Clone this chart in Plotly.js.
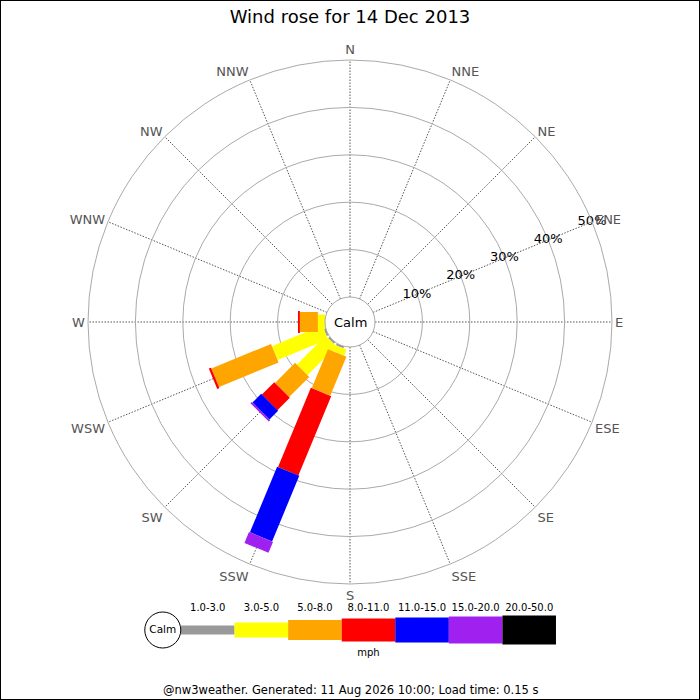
<!DOCTYPE html>
<html>
<head>
<meta charset="utf-8">
<script src="https://cdn.plot.ly/plotly-3.0.1.min.js"></script>
<style>
html,body{margin:0;padding:0;background:#fff;}
#chart{width:700px;height:700px;}
</style>
</head>
<body>
<div id="chart"></div>
<script>
// ---- data ----
const directions = ['N','NNE','NE','ENE','E','ESE','SE','SSE','S','SSW','SW','WSW','W','WNW','NW','NNW'];
const speedBands = ['1.0-3.0','3.0-5.0','5.0-8.0','8.0-11.0','11.0-15.0','15.0-20.0','20.0-50.0'];
// percent of time per direction, per speed band (mph)
const band1to3   = [0,0,0,0,0,0,0,0,0, 0.4, 0.4, 0.4, 0,  0,0,0];
const band3to5   = [0,0,0,0,0,0,0,0,0, 1.4, 8.6,11.5, 1.5,0,0,0];
const band5to8   = [0,0,0,0,0,0,0,0,0, 8.9, 6.0,13.6, 3.8,0,0,0];
const band8to11  = [0,0,0,0,0,0,0,0,0,18.1, 3.7, 0.5, 0.4,0,0,0];
const band11to15 = [0,0,0,0,0,0,0,0,0,15.0, 2.6, 0,   0,  0,0,0];
const band15to20 = [0,0,0,0,0,0,0,0,0, 2.5, 0.4, 0,   0,  0,0,0];
const band20to50 = [0,0,0,0,0,0,0,0,0, 0,   0,   0,   0,  0,0,0];
const radialTicks = [10,20,30,40,50];
const radialTickText = ['10%','20%','30%','40%','50%'];
const radialLabelDirection = 'ENE';
const titleText = 'Wind rose for 14 Dec 2013';
const footerText = '@nw3weather. Generated: 11 Aug 2026 10:00; Load time: 0.15 s';

// ---- styles ----
const bandColors = ['#999999','#ffff00','#ffa500','#ff0000','#0000ff','#a020f0','#000000'];
const bandWidths = [8,15,20,22,24,26,28];
const legendWidths = [9,15,20,23,25,27,29];
const FONT = 'DejaVu Sans, Verdana, sans-serif';

const bands = [band1to3,band3to5,band5to8,band8to11,band11to15,band15to20,band20to50];

const traces = [];
const cum = directions.map(()=>0);
bands.forEach((vals,bi)=>{
  const r=[], th=[];
  vals.forEach((v,di)=>{
    const lo = cum[di], hi = cum[di]+v;
    cum[di] = hi;
    if(v>0){ r.push(lo,hi,null); th.push(directions[di],directions[di],null); }
  });
  traces.push({
    type:'scatterpolar', mode:'lines', r:r, theta:th,
    connectgaps:false,
    line:{color:bandColors[bi], width:bandWidths[bi]},
    hoverinfo:'skip', showlegend:false, subplot:'polar'
  });
});
// radial scale labels, centred on each ring along ENE
traces.push({
  type:'scatterpolar', mode:'text', r:radialTicks, theta:radialTicks.map(()=>radialLabelDirection),
  text:radialTickText, textposition:'middle center',
  textfont:{family:FONT,size:13,color:'#000'}, cliponaxis:false,
  hoverinfo:'skip', showlegend:false, subplot:'polar'
});

// legend (colour key)
speedBands.forEach((b,i)=>{
  traces.push({
    type:'scatter', mode:'lines', x:[i,i+1], y:[0,0], xaxis:'x', yaxis:'y',
    line:{color:bandColors[i], width:legendWidths[i]},
    hoverinfo:'skip', showlegend:false, cliponaxis:false
  });
});
traces.push({
  type:'scatter', mode:'text', x:speedBands.map((b,i)=>i+0.5), y:speedBands.map(()=>0.76),
  text:speedBands, textfont:{family:FONT,size:10,color:'#000'},
  hoverinfo:'skip', showlegend:false, cliponaxis:false, xaxis:'x', yaxis:'y'
});
traces.push({
  type:'scatter', mode:'markers+text', x:[-0.34], y:[0], text:['Calm'],
  textposition:'middle center', textfont:{family:FONT,size:10.5,color:'#000'},
  marker:{size:36,color:'#fff',line:{color:'#000',width:1}},
  hoverinfo:'skip', showlegend:false, cliponaxis:false, xaxis:'x', yaxis:'y'
});
traces.push({
  type:'scatter', mode:'text', x:[3.5], y:[-0.85], text:['mph'],
  textfont:{family:FONT,size:10,color:'#000'},
  hoverinfo:'skip', showlegend:false, cliponaxis:false, xaxis:'x', yaxis:'y'
});

const layout = {
  width:700, height:700,
  margin:{l:0,r:0,t:0,b:0},
  paper_bgcolor:'#fff', plot_bgcolor:'rgba(0,0,0,0)',
  font:{family:FONT, color:'#000'},
  showlegend:false,
  title:{text:titleText, x:0.5, xanchor:'center', y:1-17/700, yanchor:'middle',
         font:{family:FONT,size:18,color:'#000'}},
  polar:{
    domain:{x:[88/700,612/700], y:[116/700,640/700]},
    hole:25/262,
    bgcolor:'#fff',
    angularaxis:{
      type:'category', categoryarray:directions, direction:'clockwise', rotation:90,
      showline:true, linecolor:'#aaaaaa', linewidth:1,
      showgrid:true, gridcolor:'#555555', griddash:'1.5px,1.5px', gridwidth:1,
      ticks:'', tickfont:{family:FONT,size:13,color:'#555555'}
    },
    radialaxis:{
      range:[0,50], tickmode:'array', tickvals:radialTicks, showticklabels:false,
      angle:22.5,
      showline:false, ticks:'', showgrid:true, gridcolor:'#aaaaaa', gridwidth:1
    }
  },
  xaxis:{domain:[140/700,560/700], range:[-0.765,7.075], visible:false, fixedrange:true},
  yaxis:{domain:[42/700,98/700], range:[-1,1], visible:false, fixedrange:true},
  annotations:[
    {text:'Calm', xref:'paper', yref:'paper', x:0.5, y:378/700, showarrow:false,
     xanchor:'center', yanchor:'middle', font:{family:FONT,size:13,color:'#000'}},
    {text:footerText, xref:'paper', yref:'paper', x:0.5, y:10/700, showarrow:false,
     xanchor:'center', yanchor:'middle', font:{family:FONT,size:11.5,color:'#000'}}
  ],
  shapes:[
    {type:'rect', xref:'paper', yref:'paper', x0:0, x1:1, y0:0, y1:1,
     line:{color:'#000',width:2}, fillcolor:'rgba(0,0,0,0)'}
  ]
};

Plotly.newPlot('chart', traces, layout, {staticPlot:true, displayModeBar:false});
</script>
</body>
</html>
